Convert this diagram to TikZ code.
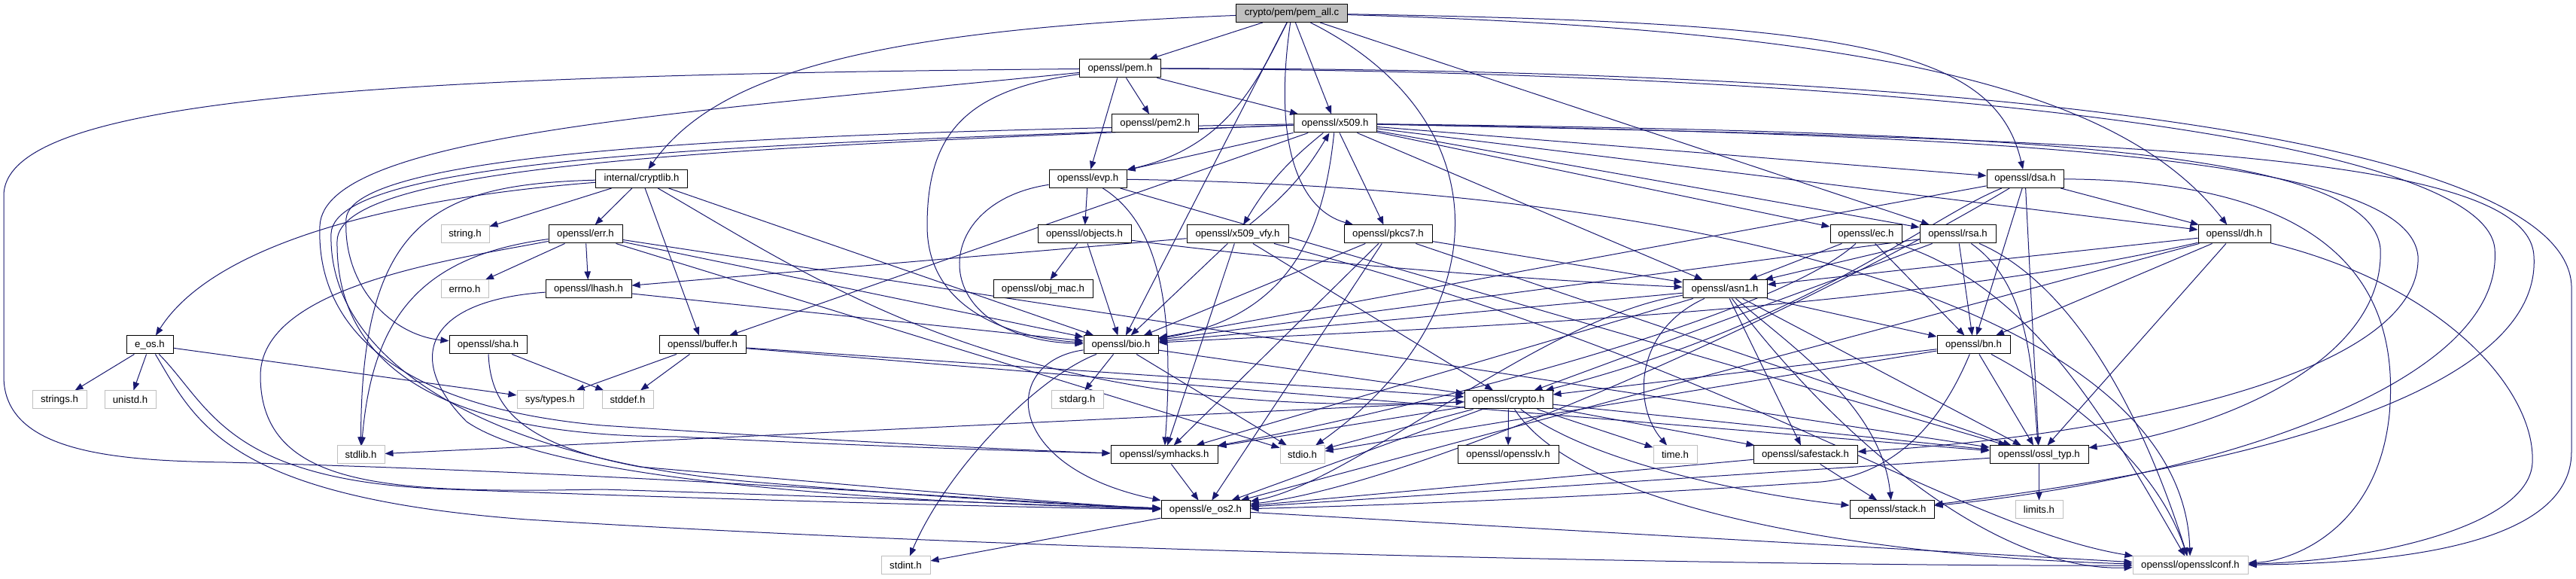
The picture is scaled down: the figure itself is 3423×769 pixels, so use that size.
\documentclass[tikz,border=0pt]{standalone}
\usepackage{fontspec}
\setmainfont{Liberation Sans}
\usetikzlibrary{arrows.meta}
\definecolor{edgecol}{RGB}{25,25,112}
\definecolor{sysgray}{RGB}{191,191,191}
\pgfdeclarelayer{bg}
\pgfsetlayers{bg,main}
\begin{document}
\begin{tikzpicture}[x=0.5pt,y=-0.5pt,
  nd/.style={draw=black, line width=0.5pt, fill=white, minimum height=12pt, inner sep=0pt, font=\fontsize{6.6}{7}\selectfont, text=black},
  sys/.style={nd, draw=sysgray},
  rt/.style={nd, fill=sysgray},
  edg/.style={draw=edgecol, line width=0.5pt, -{Triangle[length=5.5pt,width=4.2pt]}}]
\useasboundingbox (0,0) rectangle (3423,769);
% nodes
\node[rt, minimum width=74pt] (R) at (1716.5,17.5) {crypto/pem/pem\_all.c};
\node[nd, minimum width=53.75pt] (pem) at (1488.5,91) {openssl/pem.h};
\node[nd, minimum width=57.5pt] (pem2) at (1535,164) {openssl/pem2.h};
\node[nd, minimum width=55pt] (x509) at (1774,164) {openssl/x509.h};
\node[nd, minimum width=61pt] (cryptlib) at (852.5,237.5) {internal/cryptlib.h};
\node[nd, minimum width=51.5pt] (evp) at (1445.5,237.5) {openssl/evp.h};
\node[nd, minimum width=51pt] (dsa) at (2691,237.5) {openssl/dsa.h};
\node[sys, minimum width=32pt] (string) at (618,311) {string.h};
\node[nd, minimum width=49pt] (err) at (778,311) {openssl/err.h};
\node[nd, minimum width=62pt] (objects) at (1441,311) {openssl/objects.h};
\node[nd, minimum width=67.5pt] (vfy) at (1644.5,311) {openssl/x509\_vfy.h};
\node[nd, minimum width=58.5pt] (pkcs7) at (1844.5,311) {openssl/pkcs7.h};
\node[nd, minimum width=47.5pt] (ec) at (2479.5,311) {openssl/ec.h};
\node[nd, minimum width=50.5pt] (rsa) at (2601.5,311) {openssl/rsa.h};
\node[nd, minimum width=48pt] (dh) at (2969,311) {openssl/dh.h};
\node[sys, minimum width=31.5pt] (errno) at (617.5,384) {errno.h};
\node[nd, minimum width=57pt] (lhash) at (782,384) {openssl/lhash.h};
\node[nd, minimum width=66pt] (objmac) at (1386,384) {openssl/obj\_mac.h};
\node[nd, minimum width=56pt] (asn1) at (2292,384) {openssl/asn1.h};
\node[nd, minimum width=31pt] (eos) at (199,458) {e\_os.h};
\node[nd, minimum width=51.5pt] (sha) at (648.5,458) {openssl/sha.h};
\node[nd, minimum width=57.5pt] (buffer) at (933.5,458) {openssl/buffer.h};
\node[nd, minimum width=49.5pt] (bio) at (1489.5,458) {openssl/bio.h};
\node[nd, minimum width=48.5pt] (bn) at (2622.5,458) {openssl/bn.h};
\node[sys, minimum width=36pt] (strings) at (79,531) {strings.h};
\node[sys, minimum width=34pt] (unistd) at (173,531) {unistd.h};
\node[sys, minimum width=44pt] (systypes) at (731,531) {sys/types.h};
\node[sys, minimum width=34pt] (stddef) at (834,531) {stddef.h};
\node[sys, minimum width=34.5pt] (stdarg) at (1431.5,531) {stdarg.h};
\node[nd, minimum width=58.5pt] (crypto) at (2004.5,531) {openssl/crypto.h};
\node[sys, minimum width=31.5pt] (stdlib) at (479.5,604) {stdlib.h};
\node[sys, minimum width=29.5pt] (stdio) at (1730.5,604) {stdio.h};
\node[nd, minimum width=71pt] (symhacks) at (1547,604) {openssl/symhacks.h};
\node[nd, minimum width=67pt] (opensslv) at (2004,604) {openssl/opensslv.h};
\node[sys, minimum width=29pt] (time) at (2226,604) {time.h};
\node[nd, minimum width=69pt] (safestack) at (2399,604) {openssl/safestack.h};
\node[nd, minimum width=65.5pt] (ossltyp) at (2709.5,604) {openssl/ossl\_typ.h};
\node[nd, minimum width=59pt] (eos2) at (1602,677) {openssl/e\_os2.h};
\node[nd, minimum width=56pt] (stack) at (2514,677) {openssl/stack.h};
\node[sys, minimum width=31.5pt] (limits) at (2709.5,677) {limits.h};
\node[sys, minimum width=32.5pt] (stdint) at (1203.5,751) {stdint.h};
\node[sys, minimum width=76.5pt] (conf) at (2910.5,751) {openssl/opensslconf.h};
% edges
\begin{pgfonlayer}{bg}
% root
\draw[edg] (R) -- (pem);
\draw[edg] (R) -- (x509);
\draw[edg] (R) .. controls (1670,110) and (1630,195) .. (evp);
\draw[edg] (R) .. controls (1150,40) and (950,100) .. (cryptlib);
\draw[edg] (R) -- (bio);
\draw[edg] (R) .. controls (2000,160) and (1990,420) .. (stdio);
\draw[edg] (R) .. controls (1690,200) and (1730,280) .. (pkcs7);
\draw[edg] (R) -- (rsa);
\draw[edg] (R) .. controls (2450,30) and (2650,60) .. (dsa);
\draw[edg] (R) .. controls (2500,40) and (2820,120) .. (dh);
% pem
\draw[edg] (pem) .. controls (500,100) and (5,130) .. (5,260) -- (5,500) .. controls (5,600) and (150,612) .. (300,614) .. controls (900,630) and (1350,668) .. (eos2);
\draw[edg] (pem) .. controls (1280,120) and (1232,180) .. (1232,300) .. controls (1232,420) and (1360,450) .. (bio);
\draw[edg] (pem) .. controls (2500,95) and (3300,180) .. (3315,330) .. controls (3330,520) and (2900,640) .. (stack);
\draw[edg] (pem) .. controls (2600,90) and (3410,180) .. (3417,380) -- (3417,600) .. controls (3417,720) and (3200,748) .. (conf);
\draw[edg] (pem) -- (evp);
\draw[edg] (pem) -- (x509);
\draw[edg] (pem) -- (pem2);
\draw[edg] (pem) .. controls (900,150) and (430,180) .. (425,300) .. controls (420,430) and (520,540) .. (800,565) .. controls (1100,585) and (1350,598) .. (symhacks);
% x509
\draw[edg] (x509) .. controls (1100,190) and (445,200) .. (440,310) .. controls (435,480) and (650,610) .. (1000,640) .. controls (1300,665) and (1450,672) .. (eos2);
\draw[edg] (x509) .. controls (2700,175) and (3150,200) .. (3163,330) .. controls (3170,480) and (2950,570) .. (ossltyp);
\draw[edg] (x509) .. controls (1000,195) and (450,215) .. (448,320) .. controls (446,470) and (560,580) .. (900,580) .. controls (1200,595) and (1400,600) .. (symhacks);
\draw[edg] (x509) -- (buffer);
\draw[edg] (x509) -- (evp);
\draw[edg] (x509) .. controls (1760,300) and (1720,420) .. (bio);
\draw[edg] (x509) .. controls (2800,185) and (3360,200) .. (3367,340) .. controls (3380,540) and (2900,630) .. (stack);
\draw[edg] (x509) -- (asn1);
\draw[edg] (x509) .. controls (2700,180) and (3200,210) .. (3213,340) .. controls (3220,500) and (2800,580) .. (safestack);
\draw[edg] (x509) -- (ec);
\draw[edg] (x509) -- (rsa);
\draw[edg] (x509) -- (dsa);
\draw[edg] (x509) -- (dh);
\draw[edg] (x509) .. controls (1100,175) and (470,195) .. (460,290) .. controls (455,380) and (520,445) .. (sha);
\draw[edg] (x509) to[bend right=10] (vfy);
\draw[edg] (vfy) to[bend right=10] (x509);
\draw[edg] (x509) -- (pkcs7);
% cryptlib
\draw[edg] (cryptlib) .. controls (580,245) and (480,290) .. (stdlib);
\draw[edg] (cryptlib) -- (string);
\draw[edg] (cryptlib) .. controls (500,265) and (280,330) .. (eos);
\draw[edg] (cryptlib) .. controls (1100,380) and (1350,560) .. (crypto);
\draw[edg] (cryptlib) -- (buffer);
\draw[edg] (cryptlib) -- (bio);
\draw[edg] (cryptlib) -- (err);
% evp
\draw[edg] (evp) .. controls (2300,250) and (2900,420) .. (conf);
\draw[edg] (evp) -- (ossltyp);
\draw[edg] (evp) .. controls (1545,300) and (1560,420) .. (symhacks);
\draw[edg] (evp) .. controls (1230,270) and (1230,450) .. (bio);
\draw[edg] (evp) -- (objects);
% dsa
\draw[edg] (dsa) .. controls (2420,400) and (1900,640) .. (eos2);
\draw[edg] (dsa) .. controls (3100,240) and (3190,380) .. (3175,550) .. controls (3160,700) and (3050,745) .. (conf);
\draw[edg] (dsa) -- (bio);
\draw[edg] (dsa) .. controls (2560,290) and (2400,430) .. (crypto);
\draw[edg] (dsa) -- (ossltyp);
\draw[edg] (dsa) -- (bn);
\draw[edg] (dsa) -- (dh);
% err
\draw[edg] (err) .. controls (600,345) and (345,380) .. (346,500) .. controls (347,650) and (520,655) .. (800,650) .. controls (1200,662) and (1450,674) .. (eos2);
\draw[edg] (err) -- (stdio);
\draw[edg] (err) .. controls (560,340) and (495,420) .. (stdlib);
\draw[edg] (err) -- (ossltyp);
\draw[edg] (err) -- (bio);
\draw[edg] (err) -- (lhash);
\draw[edg] (err) -- (errno);
% objects
\draw[edg] (objects) -- (objmac);
\draw[edg] (objects) -- (bio);
\draw[edg] (objects) .. controls (1700,345) and (2000,370) .. (asn1);
% x509_vfy
\draw[edg] (vfy) .. controls (2300,480) and (2600,700) .. (conf);
\draw[edg] (vfy) -- (lhash);
\draw[edg] (vfy) -- (bio);
\draw[edg] (vfy) -- (crypto);
\draw[edg] (vfy) -- (symhacks);
% pkcs7
\draw[edg] (pkcs7) -- (asn1);
\draw[edg] (pkcs7) -- (bio);
\draw[edg] (pkcs7) -- (eos2);
\draw[edg] (pkcs7) -- (symhacks);
\draw[edg] (pkcs7) -- (ossltyp);
% ec
\draw[edg] (ec) .. controls (2700,380) and (2800,560) .. (conf);
\draw[edg] (ec) -- (asn1);
\draw[edg] (ec) .. controls (2350,430) and (1800,560) .. (symhacks);
\draw[edg] (ec) -- (bn);
% rsa
\draw[edg] (rsa) .. controls (2760,380) and (2850,560) .. (conf);
\draw[edg] (rsa) -- (asn1);
\draw[edg] (rsa) -- (bio);
\draw[edg] (rsa) -- (crypto);
\draw[edg] (rsa) .. controls (2700,380) and (2700,500) .. (ossltyp);
\draw[edg] (rsa) -- (bn);
% dh
\draw[edg] (dh) .. controls (3250,380) and (3370,520) .. (3365,615) .. controls (3360,700) and (3150,745) .. (conf);
\draw[edg] (dh) -- (eos2);
\draw[edg] (dh) .. controls (2500,420) and (1800,440) .. (bio);
\draw[edg] (dh) -- (asn1);
\draw[edg] (dh) -- (ossltyp);
\draw[edg] (dh) -- (bn);
% lhash
\draw[edg] (lhash) .. controls (560,400) and (540,480) .. (620,560) .. controls (750,650) and (1300,670) .. (eos2);
\draw[edg] (lhash) -- (bio);
% asn1
\draw[edg] (asn1) .. controls (2170,440) and (2170,540) .. (time);
\draw[edg] (asn1) .. controls (2050,420) and (1800,640) .. (eos2);
\draw[edg] (asn1) .. controls (2440,580) and (2650,760) .. (conf);
\draw[edg] (asn1) -- (bio);
\draw[edg] (asn1) .. controls (2380,460) and (2500,540) .. (stack);
\draw[edg] (asn1) -- (safestack);
\draw[edg] (asn1) -- (symhacks);
\draw[edg] (asn1) -- (ossltyp);
\draw[edg] (asn1) -- (bn);
% e_os
\draw[edg] (eos) .. controls (260,560) and (300,660) .. (700,690) .. controls (1500,740) and (2500,752) .. (conf);
\draw[edg] (eos) .. controls (280,540) and (300,640) .. (600,650) .. controls (1000,665) and (1400,675) .. (eos2);
\draw[edg] (eos) -- (strings);
\draw[edg] (eos) -- (unistd);
\draw[edg] (eos) -- (systypes);
% sha
\draw[edg] (sha) .. controls (652,540) and (690,590) .. (850,620) .. controls (1200,650) and (1450,672) .. (eos2);
\draw[edg] (sha) -- (stddef);
% buffer
\draw[edg] (buffer) -- (ossltyp);
\draw[edg] (buffer) -- (crypto);
\draw[edg] (buffer) -- (stddef);
\draw[edg] (buffer) -- (systypes);
% bio
\draw[edg] (bio) .. controls (1330,480) and (1330,620) .. (eos2);
\draw[edg] (bio) -- (stdio);
\draw[edg] (bio) -- (stdarg);
\draw[edg] (bio) -- (crypto);
\draw[edg] (bio) .. controls (1380,500) and (1260,620) .. (stdint);
% bn
\draw[edg] (bn) .. controls (2580,560) and (2520,630) .. (2420,640) .. controls (2200,655) and (1900,670) .. (eos2);
\draw[edg] (bn) -- (stdio);
\draw[edg] (bn) .. controls (2720,510) and (2860,600) .. (conf);
\draw[edg] (bn) -- (ossltyp);
\draw[edg] (bn) -- (crypto);
% crypto
\draw[edg] (crypto) -- (stdlib);
\draw[edg] (crypto) -- (time);
\draw[edg] (crypto) -- (eos2);
\draw[edg] (crypto) -- (stdio);
\draw[edg] (crypto) .. controls (2120,620) and (2350,660) .. (stack);
\draw[edg] (crypto) -- (safestack);
\draw[edg] (crypto) -- (opensslv);
\draw[edg] (crypto) -- (ossltyp);
\draw[edg] (crypto) .. controls (2100,680) and (2500,740) .. (conf);
\draw[edg] (crypto) -- (symhacks);
% lower
\draw[edg] (safestack) -- (stack);
\draw[edg] (safestack) -- (eos2);
\draw[edg] (symhacks) -- (eos2);
\draw[edg] (eos2) -- (conf);
\draw[edg] (eos2) -- (stdint);
\draw[edg] (ossltyp) -- (eos2);
\draw[edg] (ossltyp) -- (limits);
\end{pgfonlayer}
\end{tikzpicture}
\end{document}
